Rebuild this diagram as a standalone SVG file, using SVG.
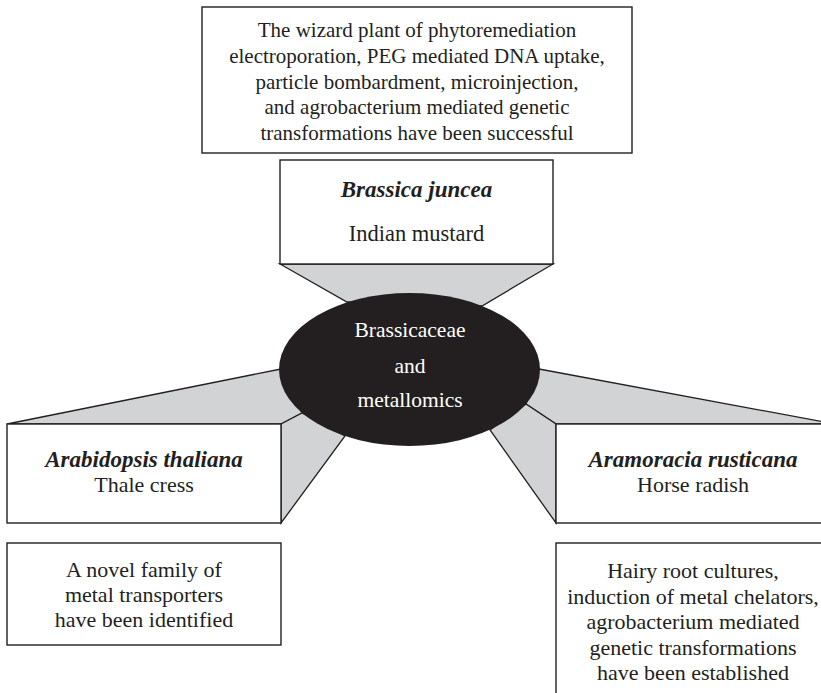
<svg xmlns="http://www.w3.org/2000/svg" width="821" height="693" viewBox="0 0 821 693">
<style>
.box{fill:#fff;stroke:#231f20;stroke-width:1.4}
.wedge{fill:#d1d3d4;stroke:#231f20;stroke-width:1.3;stroke-linejoin:miter}
.t{font-family:"Liberation Serif","Times New Roman",serif;font-size:22px;fill:#231f20;text-anchor:middle}
.top{font-size:21px}
.bi{font-weight:bold;font-style:italic;font-size:23px}
.w{fill:#fff;font-size:21.5px}
</style>
<rect width="821" height="693" fill="#fff"/>
<g id="connectors">
<polygon class="wedge" points="280,264 553,264 482,306 347,302"/>
<polygon class="wedge" points="281,369 7,424 281,424 302,413"/>
<polygon class="wedge" points="281,424 302,413 345,436 281,523"/>
<polygon class="wedge" points="539,369 835,424 556,424 526,404"/>
<polygon class="wedge" points="556,424 526,404 490,430 556,523"/>
</g>
<g id="top-note">
<rect class="box" x="202" y="7" width="430" height="146"/>
<text class="t top" x="417" y="37">The wizard plant of phytoremediation</text>
<text class="t top" x="417" y="63">electroporation, PEG mediated DNA uptake,</text>
<text class="t top" x="417" y="89">particle bombardment, microinjection,</text>
<text class="t top" x="417" y="114">and agrobacterium mediated genetic</text>
<text class="t top" x="417" y="140">transformations have been successful</text>
</g>
<g id="brassica-juncea">
<rect class="box" x="280" y="160" width="273" height="104"/>
<text class="t bi" x="416.5" y="197">Brassica juncea</text>
<text class="t" x="416.5" y="241" style="font-size:22.5px">Indian mustard</text>
</g>
<g id="center">
<ellipse cx="409.5" cy="369.5" rx="130.5" ry="76.5" fill="#231f20"/>
<text class="t w" x="410" y="337">Brassicaceae</text>
<text class="t w" x="410" y="373">and</text>
<text class="t w" x="410" y="407">metallomics</text>
</g>
<g id="arabidopsis">
<rect class="box" x="7" y="424" width="274" height="99"/>
<text class="t bi" x="144" y="467">Arabidopsis thaliana</text>
<text class="t" x="144" y="492">Thale cress</text>
</g>
<g id="arabidopsis-note">
<rect class="box" x="7" y="543" width="274" height="102"/>
<text class="t" x="144" y="577">A novel family of</text>
<text class="t" x="144" y="602">metal transporters</text>
<text class="t" x="144" y="627">have been identified</text>
</g>
<g id="aramoracia">
<rect class="box" x="556" y="424" width="280" height="99"/>
<text class="t bi" x="693" y="467">Aramoracia rusticana</text>
<text class="t" x="693" y="492">Horse radish</text>
</g>
<g id="aramoracia-note">
<rect class="box" x="556" y="543" width="280" height="200"/>
<text class="t" x="693" y="578">Hairy root cultures,</text>
<text class="t" x="693" y="603.5">induction of metal chelators,</text>
<text class="t" x="693" y="629">agrobacterium mediated</text>
<text class="t" x="693" y="654.5">genetic transformations</text>
<text class="t" x="693" y="680">have been established</text>
</g>
</svg>
